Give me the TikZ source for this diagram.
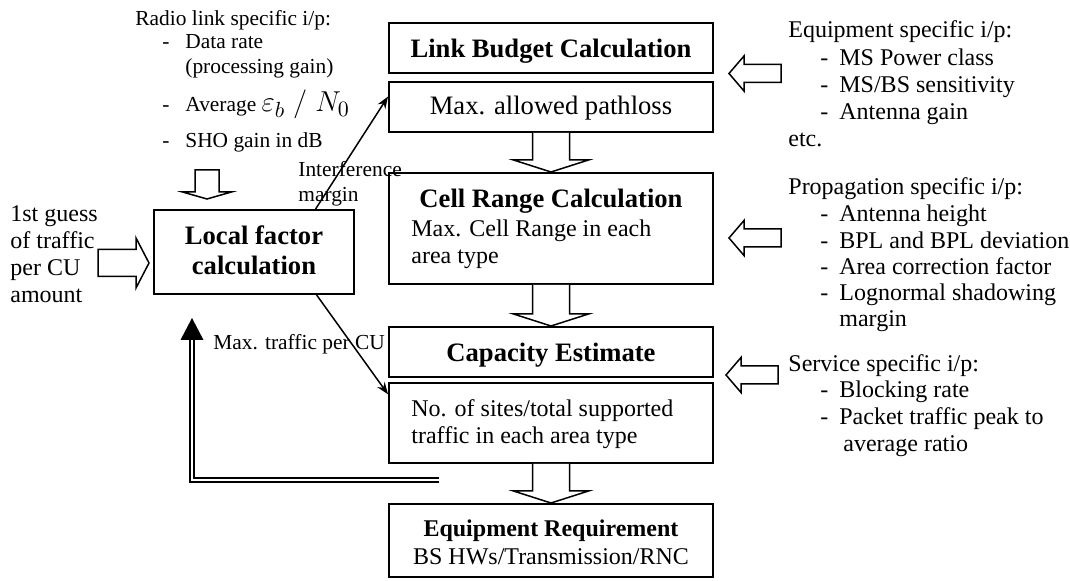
\documentclass[tikz,border=0pt]{standalone}
\usepackage{fontspec}
\setmainfont{Liberation Serif}
\usetikzlibrary{calc,arrows.meta}

% hollow block arrow pointing down from the bottom of #1 to the top of #2
\newcommand\blockdown[2]{%
  \draw[hollow] ($(#1.south)+(-18.5,0)$) -- ($(#2.north)+(-18.5,-12)$)
    -- ($(#2.north)+(-37.5,-12)$) -- (#2.north) -- ($(#2.north)+(37.5,-12)$)
    -- ($(#2.north)+(18.5,-12)$) -- ($(#1.south)+(18.5,0)$);}
% hollow block arrow pointing left, tip at #1
\newcommand\blockleft[1]{%
  \draw[hollow] (#1) -- ++(15,-17.5) -- ++(0,8.5) -- ++(37,0) -- ++(0,18)
    -- ++(-37,0) -- ++(0,8.5) -- cycle;}

\begin{document}
\begin{tikzpicture}[x=0.5pt,y=-0.5pt,
  box/.style={draw, line width=1pt, inner sep=0pt, minimum width=162pt},
  hollow/.style={draw, line width=0.75pt, fill=white, line join=miter},
  link/.style={line width=0.75pt, -{Stealth[length=6pt,width=4.5pt]}},
  feed/.style={double, double distance=1.4pt, line width=0.75pt},
  txt/.style={anchor=base west, inner sep=0pt},
  ctxt/.style={anchor=base, inner sep=0pt},
  rfont/.style={font=\fontsize{12}{14}\selectfont},
  sfont/.style={font=\fontsize{10.7}{12}\selectfont},
  bfont/.style={font=\fontsize{13.3}{15}\selectfont\bfseries},
]
\useasboundingbox (0,0) rectangle (1070,581);

% ---- main chain of boxes
\node[box, minimum height=25pt]   (lb) at (551,48)    {};
\node[box, minimum height=25pt]   (pl) at (551,107)   {};
\node[box, minimum height=55.5pt] (cr) at (551,228.5) {};
\node[box, minimum height=25pt]   (ce) at (551,352)   {};
\node[box, minimum height=40pt]   (ns) at (551,423)   {};
\node[box, minimum height=36.5pt] (er) at (551,540.5) {};
\node[box, minimum width=100pt, minimum height=42pt] (lf) at (254,252) {};

% ---- box texts
\node[ctxt, bfont] (lbt) at (551,58) {Link Budget Calculation};
\node[ctxt, font=\fontsize{13.3}{15}\selectfont] (plt) at (551,115) {Max. allowed pathloss};
\node[ctxt, bfont] (crt) at (551,208) {Cell Range Calculation};
\node[txt, rfont] (cr1) at (411,237) {Max. Cell Range in each};
\node[txt, rfont] (cr2) at (411,264) {area type};
\node[ctxt, bfont] (cet) at (551,362) {Capacity Estimate};
\node[txt, rfont] (ns1) at (411,417) {No. of sites/total supported};
\node[txt, rfont] (ns2) at (411,444) {traffic in each area type};
\node[ctxt, font=\fontsize{12}{14}\selectfont\bfseries] (ert) at (551,537) {Equipment Requirement};
\node[ctxt, rfont] (er1) at (551,565) {BS HWs/Transmission/RNC};
\node[ctxt, bfont] (lf1) at (254,245) {Local factor};
\node[ctxt, bfont] (lf2) at (254,275) {calculation};

% ---- block arrows along the chain
\blockdown{pl}{cr}
\blockdown{cr}{ce}
\blockdown{ns}{er}

% ---- inputs from the right
\coordinate (eqin) at ($(lb.south east)!0.5!(pl.north east)+(15,-4)$);
\coordinate (prin) at ($(cr.east)+(15,9.5)$);
\coordinate (svin) at ($(ce.south east)!0.5!(ns.north east)+(12,-5)$);
\blockleft{eqin}
\blockleft{prin}
\blockleft{svin}

% ---- inputs to the local factor box
\coordinate (gsin) at ($(lf.west)+(-4,11)$);
\draw[hollow] (gsin) -- ++(-13,-25) -- ++(0,11.5) -- ++(-38,0) -- ++(0,27)
  -- ++(38,0) -- ++(0,11.5) -- cycle;
\coordinate (rlin) at ($(lf.north)+(-47,-10)$);
\draw[hollow] (rlin) -- ++(-24.5,-7) -- ++(12.5,0) -- ++(0,-22) -- ++(24,0)
  -- ++(0,22) -- ++(12.5,0) -- cycle;

% ---- links out of the local factor box
\draw[link] ($(lf.north west)!0.805!(lf.north east)$) -- ($(pl.north west)!0.3!(pl.south west)$);
\draw[link] ($(lf.south west)!0.81!(lf.south east)$) -- ($(ns.north west)!0.15!(ns.south west)$);
\node[txt, sfont] (im1) at (298,177) {Interference};
\node[txt, sfont] (im2) at (298,202) {margin};
\node[txt, sfont] (mt)  at (213,350) {Max. traffic per CU};

% ---- feedback loop
\coordinate (fbs) at ($(ns.south west)+(51,16)$);
\coordinate (fbe) at ($(lf.south)+(-62,45)$);
\draw[feed] (fbs) -| (fbe);
\fill (fbe) ++(-11.5,0) -- ++(11.5,-22) -- ++(11.5,22) -- cycle;

% ---- radio link inputs
\node[txt, sfont] (rl0) at (135,26) {Radio link specific i/p:};
\node[txt, sfont] (rl1) at (162,49) {\makebox[11.5pt][l]{-}Data rate};
\node[txt, sfont] (rl2) at (185,74) {(processing gain)};
\node[txt, sfont] (rl3) at (162,112) {\makebox[11.5pt][l]{-}Average\ \fontsize{15}{17}\selectfont$\varepsilon_b\;/\;N_0$};
\node[txt, sfont] (rl4) at (162,148) {\makebox[11.5pt][l]{-}SHO gain in dB};

% ---- first traffic guess
\foreach \t [count=\i] in {1st guess, of traffic, per CU, amount}
  \node[txt, rfont] (gs\i) at (10,{222+27*(\i-1)}) {\t};

% ---- equipment inputs
\node[txt, rfont] (eq0) at (788,38) {Equipment specific i/p:};
\foreach \y/\t [count=\i] in {65.5/{MS Power class}, 93/{MS/BS sensitivity}, 120/{Antenna gain}}
  \node[txt, rfont] (eq\i) at (820,\y) {\makebox[9.5pt][l]{-}\t};
\node[txt, rfont] (eq4) at (788,147) {etc.};

% ---- propagation inputs
\node[txt, rfont] (pr0) at (788,195) {Propagation specific i/p:};
\foreach \y/\t [count=\i] in {222/{Antenna height}, 249/{BPL and BPL deviation},
    275/{Area correction factor}, 301/{Lognormal shadowing}}
  \node[txt, rfont] (pr\i) at (820,\y) {\makebox[9.5pt][l]{-}\t};
\node[txt, rfont] (pr5) at (839,327) {margin};

% ---- service inputs
\node[txt, rfont] (sv0) at (788,372) {Service specific i/p:};
\foreach \y/\t [count=\i] in {398/{Blocking rate}, 425/{Packet traffic peak to}}
  \node[txt, rfont] (sv\i) at (820,\y) {\makebox[9.5pt][l]{-}\t};
\node[txt, rfont] (sv3) at (843,452) {average ratio};
\end{tikzpicture}
\end{document}
